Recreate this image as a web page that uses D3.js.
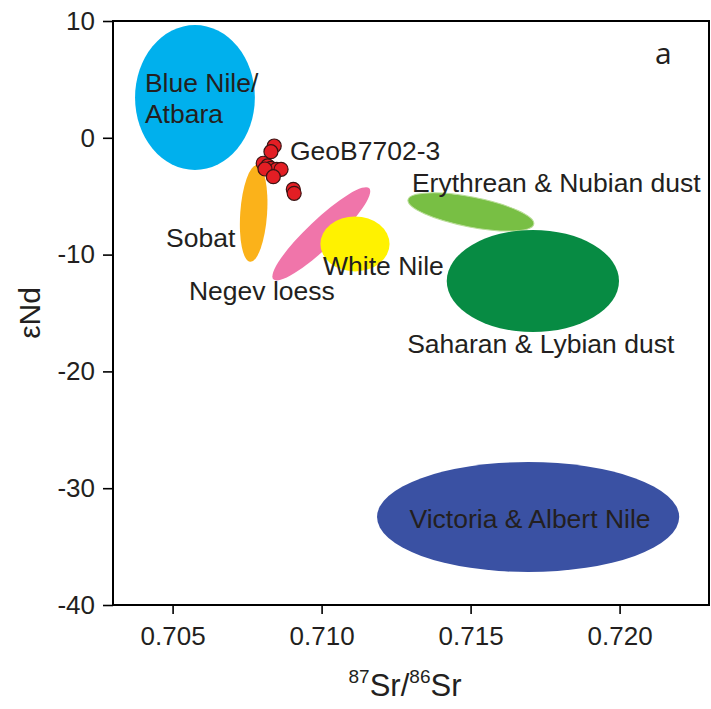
<!DOCTYPE html>
<html>
<head>
<meta charset="utf-8">
<script src="https://cdn.jsdelivr.net/npm/d3@7"></script>
<style>
  html, body { margin: 0; padding: 0; background: #fff; }
  svg { display: block; }
  text { font-family: "Liberation Sans", Arial, sans-serif; fill: #231f20; }
</style>
</head>
<body>
<svg id="chart" width="711" height="709"></svg>
<script>
// ---- data ----
const xDomain = [0.703, 0.723];
const yDomain = [-40, 10];
const xTicks = [0.705, 0.710, 0.715, 0.720];
const yTicks = [10, 0, -10, -20, -30, -40];

// source fields as ellipses (centre, semi-axes in data units, rotation in degrees)
const fieldNames = ["Blue Nile/Atbara", "Sobat", "Negev loess", "White Nile", "Erythrean & Nubian dust", "Saharan & Lybian dust", "Victoria & Albert Nile"];
const fieldCx = [0.70575, 0.70772, 0.70999, 0.71112, 0.71501, 0.71709, 0.71693];
const fieldCy = [3.45, -6.48, -8.22, -9.09, -6.35, -12.26, -32.47];
const fieldRx = [0.00201, 0.00045, 0.00222, 0.00116, 0.00215, 0.00289, 0.00507];
const fieldRy = [6.2, 4.15, 1.2, 2.35, 1.28, 4.37, 4.71];
const fieldAngle = [0, 4, -43.5, 0, 11, 0, 0];
const fieldColors = ["#00b0ed", "#fbb21a", "#f075aa", "#fff200", "#78bf44", "#078b43", "#3a51a3"];

// GeoB7702-3 samples
const sampleSr = [0.70841, 0.70830, 0.70804, 0.70819, 0.70830, 0.70849, 0.70864, 0.70810, 0.70838, 0.70905, 0.70908];
const sampleNd = [-0.70, -1.19, -2.18, -2.41, -2.61, -2.70, -2.70, -2.67, -3.33, -4.41, -4.75];

// labels (anchor position in data units)
const labelTexts = [["Blue Nile/", "Atbara"], ["GeoB7702-3"], ["Sobat"], ["Negev loess"], ["White Nile"], ["Erythrean & Nubian dust"], ["Saharan & Lybian dust"], ["Victoria & Albert Nile"]];
const labelSr = [0.70407, 0.70894, 0.70478, 0.70555, 0.71005, 0.71303, 0.71287, 0.71295];
const labelNd = [3.92, -1.90, -9.35, -13.89, -11.75, -4.64, -18.42, -33.41];

// ---- chart ----
const svg = d3.select("#chart");
const mLeft = 113, mRight = 709, mTop = 21, mBottom = 605;
const x = d3.scaleLinear().domain(xDomain).range([mLeft, mRight]);
const y = d3.scaleLinear().domain(yDomain).range([mBottom, mTop]);
const pxPerX = (mRight - mLeft) / (xDomain[1] - xDomain[0]);
const pxPerY = (mBottom - mTop) / (yDomain[1] - yDomain[0]);

const fields = fieldNames.map((n, i) => ({
  name: n, cx: fieldCx[i], cy: fieldCy[i], rx: fieldRx[i], ry: fieldRy[i],
  angle: fieldAngle[i], color: fieldColors[i]
}));

svg.append("g").selectAll("ellipse").data(fields).join("ellipse")
  .attr("transform", d => `translate(${x(d.cx)},${y(d.cy)}) rotate(${d.angle})`)
  .attr("rx", d => d.rx * pxPerX)
  .attr("ry", d => d.ry * pxPerY)
  .attr("fill", d => d.color)
  .attr("stroke", d => d.name.startsWith("Erythrean") ? "#b9dd98" : "none")
  .attr("stroke-width", 1);

const samples = sampleSr.map((s, i) => ({ sr: s, nd: sampleNd[i] }));
svg.append("g").selectAll("circle").data(samples).join("circle")
  .attr("cx", d => x(d.sr))
  .attr("cy", d => y(d.nd))
  .attr("r", 7)
  .attr("fill", "#e31e24")
  .attr("stroke", "#3b1414")
  .attr("stroke-width", 1.2);

// labels
const lab = svg.append("g").attr("font-size", 26.5);
labelTexts.forEach((lines, i) => {
  const t = lab.append("text").attr("x", x(labelSr[i])).attr("y", y(labelNd[i]));
  lines.forEach((ln, j) => {
    t.append("tspan").attr("x", x(labelSr[i])).attr("dy", j === 0 ? 0 : 31).text(ln);
  });
});

// panel letter
svg.append("text").attr("x", 655).attr("y", 64)
  .attr("font-size", 30)
  .style("font-family", "'Open Sans', 'Noto Sans', sans-serif")
  .text("a");

// axes
const yAxis = svg.append("g").attr("transform", `translate(${mLeft},0)`)
  .call(d3.axisLeft(y).tickValues(yTicks).tickSize(10).tickPadding(8).tickFormat(d => String(d)));
const xAxis = svg.append("g").attr("transform", `translate(0,${mBottom})`)
  .call(d3.axisBottom(x).tickValues(xTicks).tickSize(9).tickPadding(13).tickFormat(d3.format(".3f")));
[xAxis, yAxis].forEach(g => {
  g.select(".domain").remove();
  g.selectAll("line").attr("stroke", "#000").attr("stroke-width", 1.6);
  g.selectAll("text").attr("font-size", 26).attr("fill", "#231f20")
    .style("font-family", "'Liberation Sans', Arial, sans-serif");
});

// frame
svg.append("rect").attr("x", mLeft).attr("y", mTop)
  .attr("width", mRight - mLeft).attr("height", mBottom - mTop)
  .attr("fill", "none").attr("stroke", "#000").attr("stroke-width", 2);

// axis titles
const xt = svg.append("text").attr("x", 405).attr("y", 696)
  .attr("text-anchor", "middle").attr("font-size", 31);
xt.append("tspan").attr("font-size", 19).attr("dy", -13).text("87");
xt.append("tspan").attr("dy", 13).text("Sr/");
xt.append("tspan").attr("font-size", 19).attr("dy", -13).text("86");
xt.append("tspan").attr("dy", 13).text("Sr");

svg.append("text").attr("transform", `translate(40,${(mTop + mBottom) / 2}) rotate(-90)`)
  .attr("text-anchor", "middle").attr("font-size", 30).text("εNd");
</script>
</body>
</html>
